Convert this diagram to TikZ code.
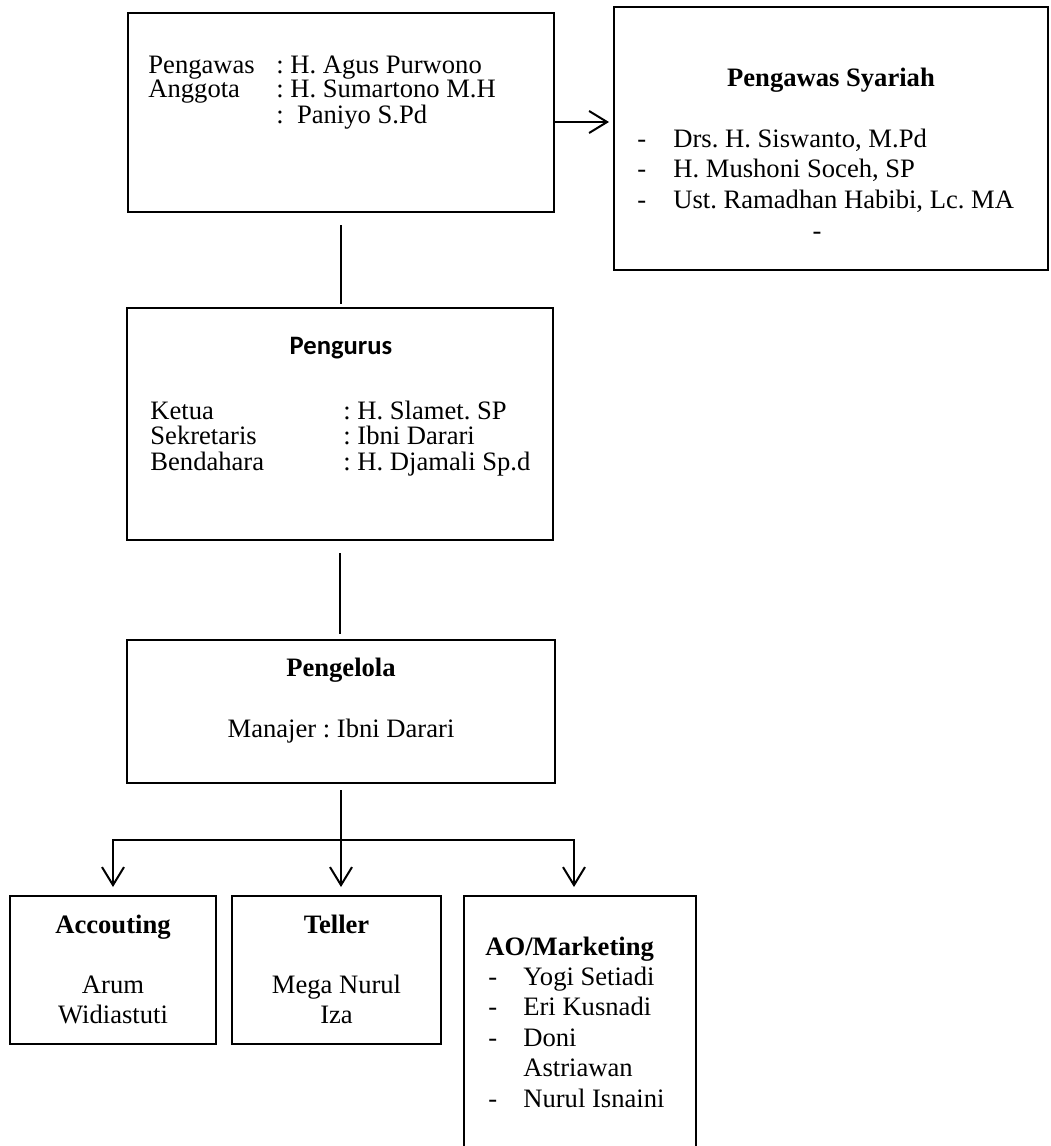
\documentclass[tikz,border=0pt]{standalone}
\usepackage{fontspec}
\setmainfont{Liberation Serif}
\newfontfamily\carlito{Carlito}
\usetikzlibrary{arrows.meta}
\frenchspacing
\tikzset{
	kotak/.style={draw,line width=1pt,inner sep=0pt},
	teks/.style={inner sep=0pt,font=\fontsize{13.3}{15.25}\selectfont},
	garis/.style={line width=1pt},
	panah/.style={garis,-{Straight Barb[length=9pt,width=11pt]}},
}
\begin{document}
\begin{tikzpicture}[x=0.5pt,y=-0.5pt]
	\useasboundingbox (0,0) rectangle (1050,1146);
	% kotak
	\node[kotak,minimum width=213pt,minimum height=99.5pt] (pengawas) at (341,112.5) {};
	\node[kotak,minimum width=217pt,minimum height=131.5pt] (syariah) at (831,138.5) {};
	\node[kotak,minimum width=213pt,minimum height=116pt] (pengurus) at (340,424) {};
	\node[kotak,minimum width=214pt,minimum height=71.5pt] (pengelola) at (341,711.5) {};
	\node[kotak,minimum width=103pt,minimum height=74pt] (accounting) at (113,970) {};
	\node[kotak,minimum width=104.5pt,minimum height=74pt] (teller) at (336.5,970) {};
	\node[kotak,minimum width=116pt,minimum height=137pt] (ao) at (580,1033) {};
	% isi kotak
	\node[teks,font=\fontsize{13.3}{12}\selectfont,anchor=base west] (tPengawas) at (148,73) {\begin{tabular}[t]{@{}p{64pt}@{}l@{}}
		Pengawas & : H. Agus Purwono\\
		Anggota & : H. Sumartono M.H\\
		& :\ \ Paniyo S.Pd
	\end{tabular}};
	\node[teks,anchor=base] (jSyariah) at (831,86) {\textbf{Pengawas Syariah}};
	\node[teks,anchor=base west] (tSyariah) at (637,147) {\begin{tabular}[t]{@{}p{18pt}@{}l@{}}
		- & Drs. H. Siswanto, M.Pd\\
		- & H. Mushoni Soceh, SP\\
		- & Ust. Ramadhan Habibi, Lc. MA
	\end{tabular}};
	\node[teks,anchor=base] (sSyariah) at (817,239) {-};
	\node[teks,anchor=base] (jPengurus) at (341,354) {\carlito\bfseries Pengurus};
	\node[teks,font=\fontsize{13.3}{12.5}\selectfont,anchor=base west] (tPengurus) at (150,419) {\begin{tabular}[t]{@{}p{96.5pt}@{}l@{}}
		Ketua & : H. Slamet. SP\\
		Sekretaris & : Ibni Darari\\
		Bendahara & : H. Djamali Sp.d
	\end{tabular}};
	\node[teks,anchor=base] (jPengelola) at (341,676) {\textbf{Pengelola}};
	\node[teks,anchor=base] (tPengelola) at (341,737) {Manajer : Ibni Darari};
	\node[teks,anchor=base] (jAccounting) at (113,933) {\textbf{Accouting}};
	\node[teks,anchor=base] (tAccounting) at (113,993) {\begin{tabular}[t]{@{}c@{}}Arum\\Widiastuti\end{tabular}};
	\node[teks,anchor=base] (jTeller) at (336.5,933) {\textbf{Teller}};
	\node[teks,anchor=base] (tTeller) at (336.5,993) {\begin{tabular}[t]{@{}c@{}}Mega Nurul\\Iza\end{tabular}};
	\node[teks,anchor=base west] (jAo) at (485,955) {\textbf{AO/Marketing}};
	\node[teks,anchor=base west] (tAo) at (488,985) {\begin{tabular}[t]{@{}p{17.5pt}@{}l@{}}
		- & Yogi Setiadi\\
		- & Eri Kusnadi\\
		- & Doni\\
		& Astriawan\\
		- & Nurul Isnaini
	\end{tabular}};
	% garis penghubung
	\draw[panah,shorten >=2pt] ([yshift=-4.75pt]pengawas.east) -- ([yshift=-4.75pt]pengawas.east -| syariah.west);
	\draw[garis,shorten <=6pt,shorten >=1.5pt] (pengawas.south) -- (pengawas.south |- pengurus.north);
	\draw[garis,shorten <=6pt,shorten >=2.5pt] (pengurus.south) -- (pengurus.south |- pengelola.north);
	\coordinate (cabang) at ([yshift=-28pt]pengelola.south);
	\draw[garis,shorten <=3pt] (pengelola.south) -- (cabang);
	\draw[panah,shorten >=4pt] (cabang) -| (accounting.north);
	\draw[panah,shorten >=4pt] (cabang) -- (cabang |- teller.north);
	\draw[panah,shorten >=4pt] (cabang) -| ([xshift=-3pt]ao.north);
\end{tikzpicture}
\end{document}
